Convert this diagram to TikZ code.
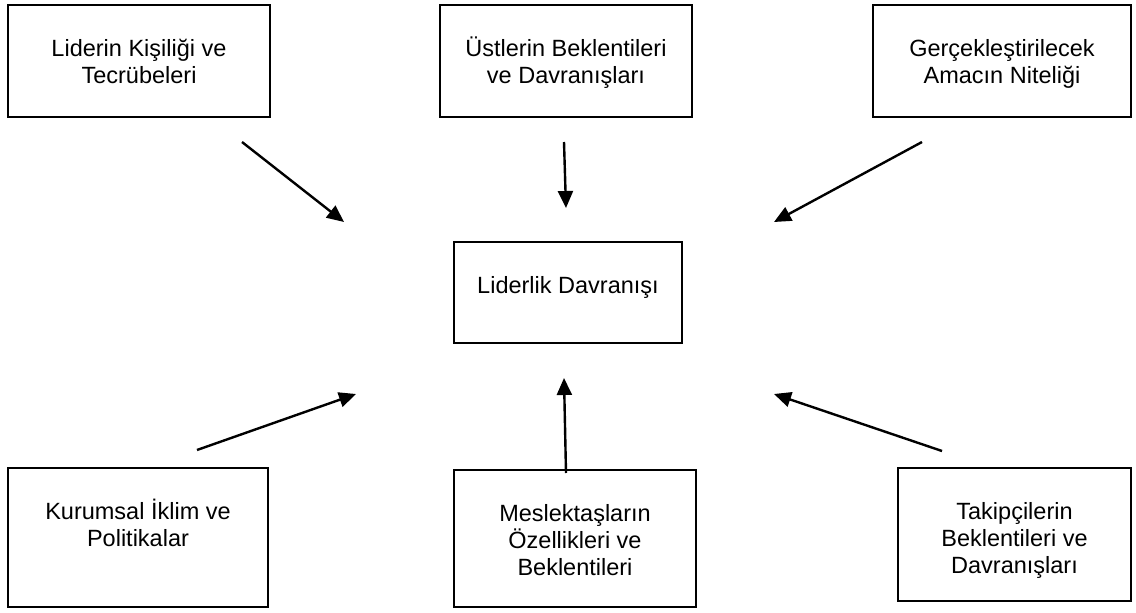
\documentclass[tikz,border=0pt]{standalone}
\usepackage{fontspec}
\setmainfont{Liberation Sans}
\usetikzlibrary{arrows.meta}
\tikzset{
  box/.style={draw, line width=2.7pt, inner sep=0pt},
  lbl/.style={anchor=north, inner sep=0pt, align=center,
              font=\fontsize{23.5}{27}\selectfont},
  flow/.style={line width=2.4pt, -{Triangle[length=17pt,width=15pt]}}
}
\newcommand{\topstrut}{\rule{0pt}{21pt}}
\begin{document}
\begin{tikzpicture}[x=1pt,y=-1pt]
  \useasboundingbox (0,0) rectangle (1136,613);
  % boxes
  \node[box, minimum width=262pt, minimum height=112pt] (tl) at (139,61) {};
  \node[box, minimum width=252pt, minimum height=112pt] (tm) at (566,61) {};
  \node[box, minimum width=258pt, minimum height=112pt] (tr) at (1002,61) {};
  \node[box, minimum width=228pt, minimum height=101pt] (c) at (568,292.5) {};
  \node[box, minimum width=260pt, minimum height=139pt] (bl) at (138,537.5) {};
  \node[box, minimum width=242pt, minimum height=137pt] (bm) at (575,538.5) {};
  \node[box, minimum width=233pt, minimum height=133pt] (br) at (1014.5,534.5) {};
  % texts
  \node[lbl] (tlt) at (139,35) {\topstrut Liderin Kişiliği ve\\Tecrübeleri};
  \node[lbl] (tmt) at (566,35) {\topstrut Üstlerin Beklentileri\\ve Davranışları};
  \node[lbl] (trt) at (1002,35) {\topstrut Gerçekleştirilecek\\Amacın Niteliği};
  \node[lbl] (ct) at (568,272) {\topstrut Liderlik Davranışı};
  \node[lbl] (blt) at (138,498) {\topstrut Kurumsal İklim ve\\Politikalar};
  \node[lbl] (bmt) at (575,500) {\topstrut Meslektaşların\\Özellikleri ve\\Beklentileri};
  \node[lbl] (brt) at (1014.5,498) {\topstrut Takipçilerin\\Beklentileri ve\\Davranışları};
  % arrow ends
  \coordinate (a1s) at (242,142);  \coordinate (a1e) at (344,222);
  \coordinate (a2s) at (564,142);  \coordinate (a2e) at (566,208);
  \coordinate (a3s) at (922,142);  \coordinate (a3e) at (774,222);
  \coordinate (a4s) at (197,450);  \coordinate (a4e) at (356,394);
  \coordinate (a5s) at (566,473);  \coordinate (a5e) at (564,378);
  \coordinate (a6s) at (942,451);  \coordinate (a6e) at (774,394);
  % arrows
  \draw[flow] (a1s) -- (a1e);
  \draw[flow] (a2s) -- (a2e);
  \draw[flow] (a3s) -- (a3e);
  \draw[flow] (a4s) -- (a4e);
  \draw[flow] (a5s) -- (a5e);
  \draw[flow] (a6s) -- (a6e);
\end{tikzpicture}
\end{document}
